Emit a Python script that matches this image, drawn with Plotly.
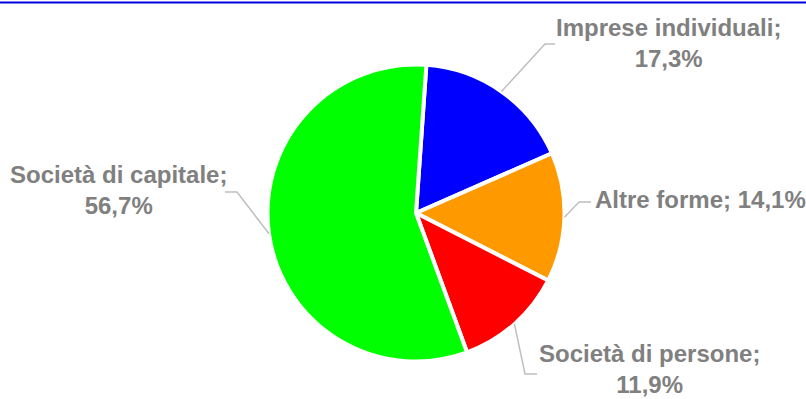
import math
import plotly.graph_objects as go

# ---- data ----
categories = ["Imprese individuali", "Altre forme", "Società di persone", "Società di capitale"]
shares = [17.3, 14.1, 11.9, 56.7]
value_labels = ["17,3%", "14,1%", "11,9%", "56,7%"]

# ---- styles / layout ----
colors = ["#0000FF", "#FF9900", "#FF0000", "#00FF00"]
W, H = 806, 399
CX, CY, R = 416, 213, 148.5
ROTATION = 4
TEXT_COLOR = "#808080"
LEADER_COLOR = "#BFBFBF"
FONT = "Liberation Sans, Arial, sans-serif"
FS = 24

# label layout: text position, anchor, line break, elbow point, horizontal end
label_layout = [
    dict(tx=668, ty=42.5, xanchor="center", br=True, elbow=(545, 44), end=(555, 44)),
    dict(tx=593, ty=199, xanchor="left", br=False, elbow=(579, 202), end=(591, 202)),
    dict(tx=649, ty=369, xanchor="center", br=True, elbow=(525, 374), end=(537, 374)),
    dict(tx=118, ty=190, xanchor="center", br=True, elbow=(237, 192), end=(225, 192)),
]

fig = go.Figure()
fig.add_trace(go.Pie(
    labels=categories,
    values=shares,
    sort=False,
    direction="clockwise",
    rotation=ROTATION,
    marker=dict(colors=colors, line=dict(color="white", width=4)),
    textinfo="none",
    hoverinfo="label+percent",
    showlegend=False,
    domain=dict(x=[(CX - R) / W, (CX + R) / W], y=[(H - CY - R) / H, (H - CY + R) / H]),
))

shapes = []
annotations = []
total = sum(shares)
cum = 0.0
for cat, val, vl, lay in zip(categories, shares, value_labels, label_layout):
    mid = ROTATION + (cum + val / 2) / total * 360
    cum += val
    a = math.radians(mid)
    ax = CX + R * math.sin(a)
    ay = CY - R * math.cos(a)
    ex, ey = lay["elbow"]
    hx, hy = lay["end"]
    shapes.append(dict(type="path", xref="x", yref="y",
                       path=f"M{ax},{ay} L{ex},{ey} L{hx},{hy}",
                       line=dict(color=LEADER_COLOR, width=1.5)))
    sep = "<br>" if lay["br"] else " "
    annotations.append(dict(
        x=lay["tx"], y=lay["ty"], xref="x", yref="y",
        text=f"<b>{cat};{sep}{vl}</b>", showarrow=False,
        xanchor=lay["xanchor"], yanchor="middle", align="center",
        font=dict(family=FONT, size=FS, color=TEXT_COLOR),
    ))

# top border line
shapes.append(dict(type="line", xref="paper", yref="y", x0=0, x1=1, y0=2.5, y1=2.5,
                   line=dict(color="#0000DD", width=2)))

fig.update_layout(
    width=W, height=H,
    margin=dict(l=0, r=0, t=0, b=0),
    paper_bgcolor="white", plot_bgcolor="rgba(0,0,0,0)",
    xaxis=dict(range=[0, W], visible=False, fixedrange=True, domain=[0, 1]),
    yaxis=dict(range=[H, 0], visible=False, fixedrange=True, domain=[0, 1]),
    shapes=shapes, annotations=annotations,
)

fig.write_html("out.html", config={"displayModeBar": False},
               post_script="document.body.style.margin='0';document.body.style.overflow='hidden';")
